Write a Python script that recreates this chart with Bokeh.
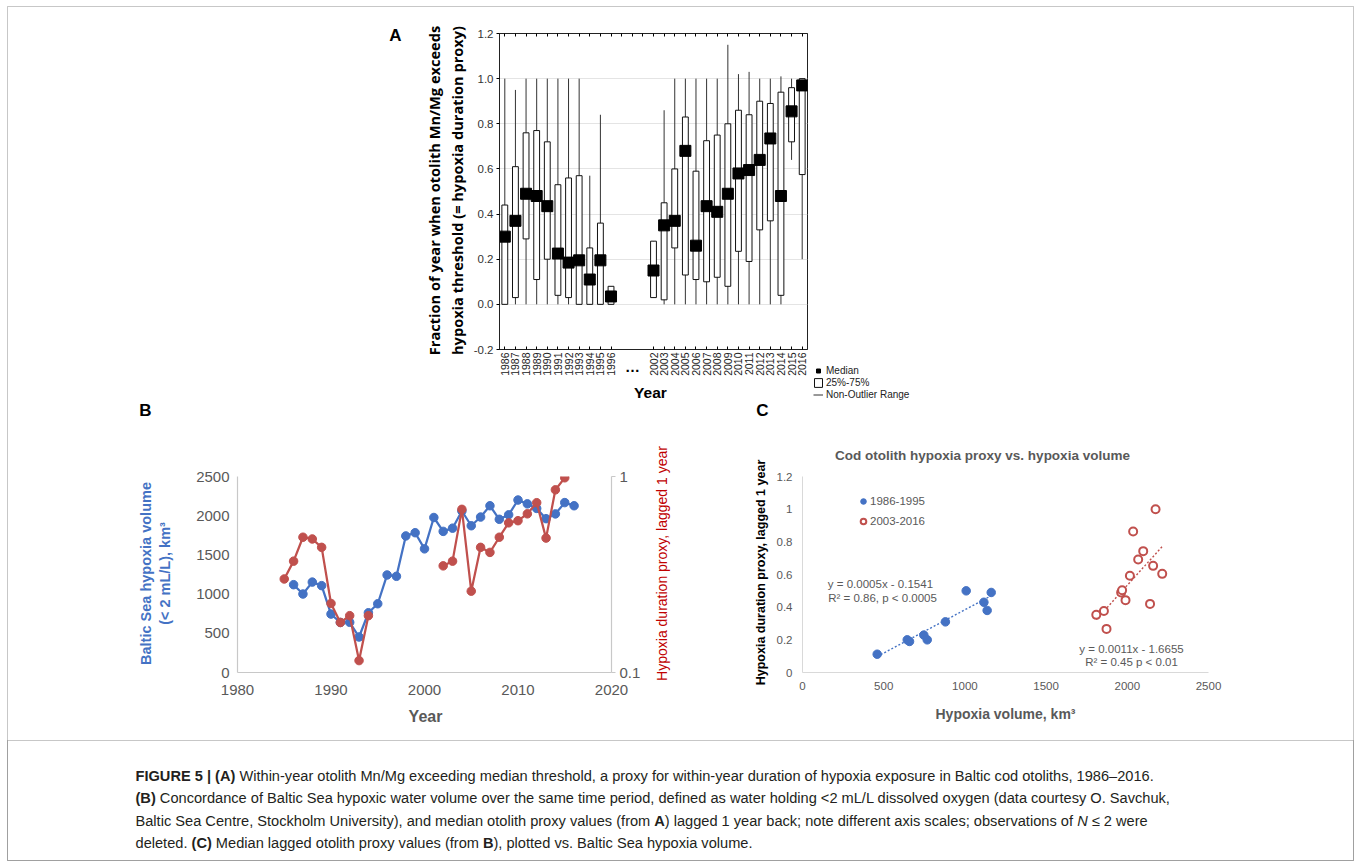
import math
from bokeh.plotting import figure
from bokeh.models import (Range1d, LinearAxis, LogAxis, LogScale, FixedTicker,
                          NumeralTickFormatter, Label, Legend, LegendItem, BoxAnnotation, Spacer)
from bokeh.layouts import column, row
from bokeh.embed import file_html
from bokeh.resources import INLINE

# ---------------- Panel A data (box plots) ----------------
a_years_early = ["1986", "1987", "1988", "1989", "1990", "1991", "1992", "1993", "1994", "1995", "1996"]
a_years_late = ["2002", "2003", "2004", "2005", "2006", "2007", "2008", "2009", "2010", "2011",
                "2012", "2013", "2014", "2015", "2016"]
a_gap_slots = 3          # empty category slots where the "…" break sits
a_years = a_years_early + a_years_late
a_median = [0.30, 0.37, 0.49, 0.48, 0.435, 0.225, 0.185, 0.195, 0.11, 0.195, 0.035,
            0.15, 0.35, 0.37, 0.68, 0.26, 0.435, 0.41, 0.49, 0.58, 0.595, 0.64, 0.735, 0.48, 0.855, 0.97]
a_q1 = [0.0, 0.03, 0.29, 0.11, 0.20, 0.04, 0.03, 0.0, 0.0, 0.0, 0.0,
        0.03, 0.02, 0.25, 0.13, 0.11, 0.10, 0.12, 0.08, 0.235, 0.19, 0.33, 0.37, 0.04, 0.72, 0.575]
a_q3 = [0.44, 0.61, 0.76, 0.77, 0.72, 0.53, 0.56, 0.57, 0.25, 0.36, 0.08,
        0.28, 0.45, 0.60, 0.83, 0.59, 0.725, 0.75, 0.80, 0.86, 0.84, 0.90, 0.89, 0.94, 0.96, 1.0]
a_low = [0.0, 0.0, 0.0, 0.0, 0.0, 0.0, 0.0, 0.0, 0.0, 0.0, 0.0,
         0.03, 0.0, 0.0, 0.0, 0.0, 0.0, 0.0, 0.0, 0.0, 0.0, 0.0, 0.0, 0.0, 0.64, 0.20]
a_high = [1.0, 0.95, 1.0, 1.0, 1.0, 1.0, 1.0, 1.0, 0.57, 0.84, 0.08,
          0.28, 0.86, 1.0, 1.0, 1.0, 1.0, 1.0, 1.15, 1.02, 1.03, 1.0, 1.0, 1.01, 1.0, 1.0]
a_yticks = [-0.2, 0.0, 0.2, 0.4, 0.6, 0.8, 1.0, 1.2]

# ---------------- Panel B data ----------------
vol_years = list(range(1986, 2017))
vol = [1120, 1001, 1153, 1108, 745, 638, 640, 453, 762, 877, 1244, 1227, 1742, 1783, 1577, 1977,
       1800, 1841, 2060, 1872, 1983, 2127, 1954, 2011, 2200, 2151, 2093, 1962, 2023, 2167, 2127]
proxy_early_years = [1985, 1986, 1987, 1988, 1989, 1990, 1991, 1992, 1993, 1994]
proxy_early = [0.30, 0.37, 0.49, 0.48, 0.435, 0.225, 0.18, 0.195, 0.115, 0.195]
proxy_late_years = [2002, 2003, 2004, 2005, 2006, 2007, 2008, 2009, 2010, 2011, 2012, 2013, 2014, 2015]
proxy_late = [0.35, 0.37, 0.68, 0.26, 0.435, 0.41, 0.49, 0.58, 0.595, 0.645, 0.735, 0.485, 0.855, 0.985]
b_xticks = [1980, 1990, 2000, 2010, 2020]
b_yticks = [0, 500, 1000, 1500, 2000, 2500]
b_y2ticks = [0.1, 1]

# ---------------- Panel C data ----------------
c_early_vol = [460, 645, 659, 747, 768, 880, 1008, 1117, 1137, 1162]
c_early_proxy = [0.112, 0.20, 0.19, 0.229, 0.20, 0.31, 0.50, 0.43, 0.38, 0.49]
c_late_vol = [1809, 1856, 1872, 1962, 1968, 1989, 2016, 2036, 2067, 2098, 2140, 2159, 2174, 2215]
c_late_proxy = [0.353, 0.376, 0.267, 0.49, 0.504, 0.443, 0.592, 0.863, 0.692, 0.743, 0.42, 0.653, 1.0, 0.604]
c_early_fit = (0.00053, -0.146)
c_late_fit = (0.0011, -1.6655)
c_xticks = [0, 500, 1000, 1500, 2000, 2500]
c_yticks = [0, 0.2, 0.4, 0.6, 0.8, 1.0, 1.2]

BLUE = "#4472c4"
RED = "#c0504d"
GRAY = "#595959"
SANS = "Liberation Sans"
W, H = 1360, 866
NAN = float("nan")


def mk_label(x, y, text, size, color="#000000", style="normal", angle=0.0, align="center",
             font=SANS):
    return Label(x=x, y=y, text=text, text_font=font, text_font_size=f"{size}px",
                 text_font_style=style, text_color=color, angle=angle,
                 text_align=align, text_baseline="middle")


# ======================= Panel A =======================
# category slots: early years, an empty break of a_gap_slots slots, late years
year_slots = [i + 0.5 for i in range(len(a_years_early))] + \
             [len(a_years_early) + a_gap_slots + i + 0.5 for i in range(len(a_years_late))]
n_slots = len(a_years_early) + a_gap_slots + len(a_years_late)
all_slots = [i + 0.5 for i in range(n_slots)]

pA = figure(width=550, height=400, x_range=Range1d(0, n_slots), y_range=Range1d(-0.2, 1.2),
            x_axis_type=None, output_backend="svg", toolbar_location=None,
            min_border_left=119, min_border_right=123, min_border_top=33, min_border_bottom=51)
pA.outline_line_color = "#222222"
pA.outline_line_width = 1
pA.xgrid.grid_line_color = None
pA.ygrid.ticker = FixedTicker(ticks=a_yticks)
pA.ygrid.grid_line_color = "#e4e4e4"

ya = pA.yaxis[0]
ya.ticker = FixedTicker(ticks=a_yticks)
ya.formatter = NumeralTickFormatter(format="0.0")
ya.major_tick_in = 0
ya.major_tick_out = 3
ya.minor_tick_line_color = None
ya.major_label_text_font = SANS
ya.major_label_text_font_size = "11.5px"
ya.major_label_text_color = "#333333"
ya.major_label_standoff = 3
ya.axis_line_color = "#222222"

xa = LinearAxis(ticker=FixedTicker(ticks=year_slots),
                major_label_overrides={s: y for s, y in zip(year_slots, a_years)})
xa.major_label_orientation = math.pi / 2
xa.major_label_text_font = SANS
xa.major_label_text_font_size = "10.5px"
xa.major_label_text_color = "#222222"
xa.major_label_standoff = 3
xa.major_tick_in = 3
xa.major_tick_out = 0
xa.minor_tick_line_color = None
xa.axis_line_color = "#222222"
pA.add_layout(xa, "below")

top_ax = LinearAxis(ticker=FixedTicker(ticks=all_slots),
                    major_label_text_color=None, major_tick_in=3, major_tick_out=0,
                    minor_tick_line_color=None, axis_line_color="#222222", major_label_standoff=0)
pA.add_layout(top_ax, "above")

pA.segment(x0=year_slots, y0=a_low, x1=year_slots, y1=a_high, line_color="#333333", line_width=1)
pA.vbar(x=year_slots, width=0.55, top=a_q3, bottom=a_q1, fill_color="white",
        line_color="#111111", line_width=1)
pA.scatter(x=year_slots, y=a_median, marker="square", size=11, color="black")

# ======================= Panel B =======================
pB = figure(width=700, height=340, x_range=Range1d(1980, 2020), y_range=Range1d(0, 2500),
            output_backend="svg", toolbar_location=None,
            min_border_left=237, min_border_right=89, min_border_top=69, min_border_bottom=68)
pB.extra_y_ranges = {"proxy": Range1d(0.1, 1)}
pB.extra_y_scales = {"proxy": LogScale()}
pB.outline_line_color = None
pB.grid.grid_line_color = None

for ax in (pB.xaxis[0], pB.yaxis[0]):
    ax.axis_line_color = "#c8c8c8"
    ax.axis_line_width = 1.2
    ax.major_tick_in = 0
    ax.major_tick_out = 0
    ax.minor_tick_line_color = None
    ax.major_label_text_font = SANS
    ax.major_label_text_font_size = "15px"
    ax.major_label_text_color = GRAY
pB.xaxis[0].ticker = FixedTicker(ticks=b_xticks)
pB.xaxis[0].major_label_standoff = 12
pB.yaxis[0].ticker = FixedTicker(ticks=b_yticks)
pB.yaxis[0].major_label_standoff = 8

y2 = LogAxis(y_range_name="proxy", ticker=FixedTicker(ticks=b_y2ticks),
             formatter=NumeralTickFormatter(format="0.[0]"))
y2.axis_line_color = "#c8c8c8"
y2.axis_line_width = 1.2
y2.major_tick_in = 0
y2.major_tick_out = 4
y2.major_tick_line_color = "#c8c8c8"
y2.minor_tick_line_color = None
y2.major_label_text_font = SANS
y2.major_label_text_font_size = "15px"
y2.major_label_text_color = GRAY
y2.major_label_standoff = 4
pB.add_layout(y2, "right")

pB.line(vol_years, vol, line_color=BLUE, line_width=2.25)
pB.scatter(vol_years, vol, size=8.5, color=BLUE)
pB.line(proxy_early_years, proxy_early, line_color=RED, line_width=2.25, y_range_name="proxy")
pB.line(proxy_late_years, proxy_late, line_color=RED, line_width=2.25, y_range_name="proxy")
pB.scatter(proxy_early_years, proxy_early, size=8.5, color=RED, y_range_name="proxy")
pB.scatter(proxy_late_years, proxy_late, size=8.5, color=RED, y_range_name="proxy")

# ======================= Panel C =======================
pC = figure(width=660, height=340, x_range=Range1d(0, 2500), y_range=Range1d(0, 1.2),
            output_backend="svg", toolbar_location=None,
            min_border_left=102, min_border_right=152, min_border_top=76, min_border_bottom=60)
pC.outline_line_color = None
pC.grid.grid_line_color = None
for ax in (pC.xaxis[0], pC.yaxis[0]):
    ax.axis_line_color = "#d9d9d9"
    ax.major_tick_in = 0
    ax.major_tick_out = 0
    ax.minor_tick_line_color = None
    ax.major_label_text_font = SANS
    ax.major_label_text_font_size = "11.5px"
    ax.major_label_text_color = GRAY
pC.xaxis[0].ticker = FixedTicker(ticks=c_xticks)
pC.xaxis[0].major_label_standoff = 9
pC.yaxis[0].ticker = FixedTicker(ticks=c_yticks)
pC.yaxis[0].formatter = NumeralTickFormatter(format="0.[0]")
pC.yaxis[0].major_label_standoff = 10

ex = [min(c_early_vol), max(c_early_vol)]
lx = [min(c_late_vol), max(c_late_vol)]
pC.line(ex, [c_early_fit[0] * v + c_early_fit[1] for v in ex], line_color=BLUE,
        line_width=1.4, line_dash="2 2")
pC.line(lx, [c_late_fit[0] * v + c_late_fit[1] for v in lx], line_color=RED,
        line_width=1.4, line_dash="2 2")
r_ce = pC.scatter(c_early_vol, c_early_proxy, size=8.5, color=BLUE)
r_cl = pC.scatter(c_late_vol, c_late_proxy, size=8, fill_color="white", line_color=RED, line_width=2)

legC = Legend(items=[LegendItem(label="1986-1995", renderers=[r_ce]),
                     LegendItem(label="2003-2016", renderers=[r_cl])],
              location=(54, 144), orientation="vertical", glyph_width=14, glyph_height=14,
              label_height=14, spacing=6, padding=0, margin=0, label_standoff=0,
              label_text_font=SANS, label_text_font_size="11.5px", label_text_color=GRAY,
              border_line_color=None, background_fill_alpha=0)
pC.add_layout(legC)

pC.add_layout(mk_label(480, 0.541, "y = 0.0005x - 0.1541", 11.5, color=GRAY))
pC.add_layout(mk_label(493, 0.459, "R\u00b2 = 0.86, p < 0.0005", 11.5, color=GRAY))
pC.add_layout(mk_label(2026, 0.141, "y = 0.0011x - 1.6655", 11.5, color=GRAY))
pC.add_layout(mk_label(2026, 0.065, "R\u00b2 = 0.45 p < 0.01", 11.5, color=GRAY))

# ======================= Overlay: frame, panel texts, caption =======================
pO = figure(width=W, height=H, x_range=Range1d(0, W), y_range=Range1d(H, 0),
            x_axis_type=None, y_axis_type=None, output_backend="svg", toolbar_location=None,
            min_border=0, min_border_left=0, min_border_right=0, min_border_top=0,
            min_border_bottom=0)
pO.grid.visible = False
pO.outline_line_color = None
pO.background_fill_alpha = 0
pO.border_fill_alpha = 0

pO.add_layout(BoxAnnotation(left=7, right=1353, top=6, bottom=860, fill_alpha=0,
                            line_color="#444444", line_width=1))
pO.add_layout(BoxAnnotation(left=7, right=1353, top=740, bottom=860, fill_alpha=0,
                            line_color="#444444", line_width=1))

VERT = math.pi / 2
overlay_texts = [
    # panel A
    (395, 35, "A", 17, "#000000", "bold", 0.0, SANS),
    (433, 190, "Fraction of year when otolith Mn/Mg exceeds", 14.6, "#000000", "bold", VERT, "Open Sans"),
    (456, 190, "hypoxia threshold (= hypoxia duration proxy)", 14.6, "#000000", "bold", VERT, "Open Sans"),
    (650, 392, "Year", 15.5, "#000000", "bold", 0.0, SANS),
    (632, 366, "\u2026", 15, "#000000", "bold", 0.0, SANS),
    # panel B
    (145, 410, "B", 17, "#000000", "bold", 0.0, SANS),
    (145, 573, "Baltic Sea hypoxia volume", 14.5, BLUE, "bold", VERT, SANS),
    (164, 573, "(< 2 mL/L), km\u00b3", 14.5, BLUE, "bold", VERT, SANS),
    (661, 563, "Hypoxia duration proxy, lagged 1 year", 14, "#c00000", "normal", VERT, SANS),
    (425, 716, "Year", 16, GRAY, "bold", 0.0, SANS),
    # panel C
    (762, 410, "C", 17, "#000000", "bold", 0.0, SANS),
    (982, 455, "Cod otolith hypoxia proxy vs. hypoxia volume", 13.5, GRAY, "bold", 0.0, SANS),
    (760, 572, "Hypoxia duration proxy, lagged 1 year", 12.5, "#000000", "bold", VERT, SANS),
    (1005, 713, "Hypoxia volume, km\u00b3", 14, GRAY, "bold", 0.0, SANS),
]
for x, y, t, s, c, st, ang, f in overlay_texts:
    pO.add_layout(mk_label(x, y, t, s, color=c, style=st, angle=ang, font=f))

# legend for panel A (legend sample glyphs only; their single point is NaN so nothing is plotted)
lg_med = pO.scatter(x=[NAN], y=[NAN], marker="square", size=11, color="black")
lg_box = pO.quad(left=[NAN], right=[NAN], top=[NAN], bottom=[NAN], fill_color="white",
                 line_color="#111111")
lg_wh = pO.segment(x0=[NAN], y0=[NAN], x1=[NAN], y1=[NAN], line_color="#333333", line_width=1)
legA = Legend(items=[LegendItem(label="Median", renderers=[lg_med]),
                     LegendItem(label="25%-75%", renderers=[lg_box]),
                     LegendItem(label="Non-Outlier Range", renderers=[lg_wh])],
              location=(813, H - 400), orientation="vertical", glyph_width=10, glyph_height=11,
              label_height=11, spacing=1, padding=0, margin=0, label_standoff=3,
              label_text_font=SANS, label_text_font_size="10px", label_text_color="#222222",
              border_line_color=None, background_fill_alpha=0)
pO.add_layout(legA)

# caption with mixed bold / italic runs (Arial-metric widths for run placement)
REG = dict(zip(" !\"#$%&'()*+,-./", [278, 278, 355, 556, 556, 889, 667, 191, 333, 333, 389, 584, 278, 333, 278, 278]))
REG.update({d: 556 for d in "0123456789"})
REG.update(dict(zip(":;<=>?", [278, 278, 584, 584, 584, 556])))
REG.update(dict(zip("ABCDEFGHIJKLMNOPQRSTUVWXYZ",
                    [667, 667, 722, 722, 667, 611, 778, 722, 278, 500, 667, 556, 833, 722, 778, 667,
                     778, 722, 667, 611, 722, 667, 944, 667, 667, 611])))
REG.update(dict(zip("abcdefghijklmnopqrstuvwxyz",
                    [556, 556, 500, 556, 556, 278, 556, 556, 222, 222, 500, 222, 833, 556, 556, 556,
                     556, 333, 500, 278, 556, 500, 722, 500, 500, 500])))
REG.update({"|": 260, "\u2013": 556, "\u2264": 549})
BOLD = dict(REG)
BOLD.update(dict(zip("ABCDEFGHIJKLMNOPQRSTUVWXYZ",
                     [722, 722, 722, 722, 667, 611, 778, 722, 278, 556, 722, 611, 833, 722, 778, 667,
                      778, 722, 667, 611, 722, 667, 944, 667, 667, 611])))
BOLD.update({"|": 280})

caption_lines = [
    [("FIGURE 5 | (A)", "bold"),
     (" Within-year otolith Mn/Mg exceeding median threshold, a proxy for within-year duration of hypoxia exposure in Baltic cod otoliths, 1986\u20132016.", "normal")],
    [("(B)", "bold"),
     (" Concordance of Baltic Sea hypoxic water volume over the same time period, defined as water holding <2 mL/L dissolved oxygen (data courtesy O. Savchuk,", "normal")],
    [("Baltic Sea Centre, Stockholm University), and median otolith proxy values (from ", "normal"),
     ("A", "bold"),
     (") lagged 1 year back; note different axis scales; observations of ", "normal"),
     ("N", "italic"), (" \u2264 2 were", "normal")],
    [("deleted. ", "normal"), ("(C)", "bold"),
     (" Median lagged otolith proxy values (from ", "normal"), ("B", "bold"),
     ("), plotted vs. Baltic Sea hypoxia volume.", "normal")],
]


def units(s, style):
    tbl = BOLD if style == "bold" else REG
    return sum(tbl.get(c, 556) for c in s)


cap_x0 = 135
cap_size = (1018.0 / sum(units(t, st) for t, st in caption_lines[0])) * 1000.0
cap_rows = [775, 797, 820, 842]

for segs, yrow in zip(caption_lines, cap_rows):
    x = cap_x0
    for t, st in segs:
        lead = len(t) - len(t.lstrip(" "))
        core = t.strip(" ")
        xs = x + units(t[:lead], st) * cap_size / 1000.0
        pO.add_layout(Label(x=xs, y=yrow, text=core, text_font=SANS,
                            text_font_size=f"{cap_size:.2f}px", text_font_style=st,
                            text_color="#231f20", text_align="left", text_baseline="middle"))
        x += units(t, st) * cap_size / 1000.0

pO.styles = {"position": "absolute", "left": "0px", "top": "0px", "z-index": "5"}

# ======================= Layout =======================
rowA = row(Spacer(width=380, height=400), pA, Spacer(width=W - 380 - 550, height=400))
rowBC = row(pB, pC)
content = column(rowA, rowBC, Spacer(width=W, height=H - 740))

open("out.html", "w").write(file_html([content, pO], INLINE))
